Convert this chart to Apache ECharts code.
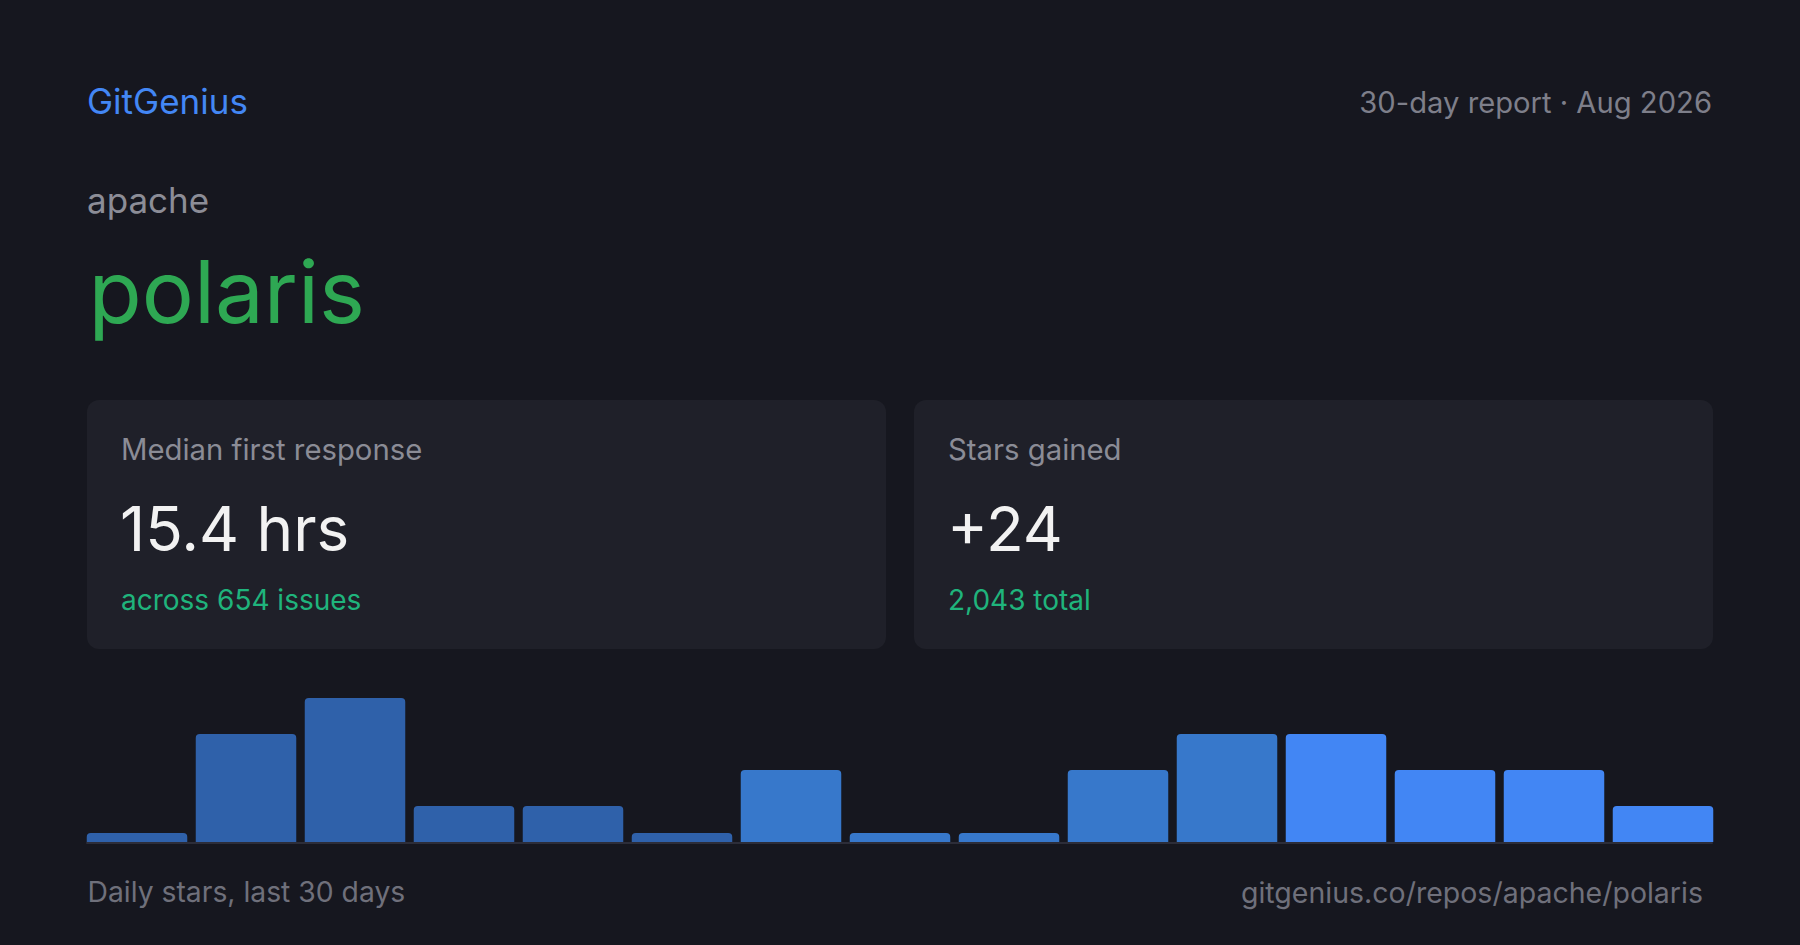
<!DOCTYPE html>
<html>
<head>
<meta charset="utf-8">
<script src="https://cdn.jsdelivr.net/npm/echarts@6/dist/echarts.min.js"></script>
<style>
  html, body { margin: 0; padding: 0; background: #16171f; }
  #chart { width: 1800px; height: 945px; }
</style>
</head>
<body>
<div id="chart"></div>
<script>
// ---- data ----
const brand = 'GitGenius';
const reportLabel = '30-day report · Aug 2026';
const owner = 'apache';
const repo = 'polaris';
const cardLabels = ['Median first response', 'Stars gained'];
const cardValues = ['15.4 hrs', '+24'];
const cardNotes = ['across 654 issues', '2,043 total'];
const footerLeft = 'Daily stars, last 30 days';
const footerRight = 'gitgenius.co/repos/apache/polaris';
const periods = ['1','2','3','4','5','6','7','8','9','10','11','12','13','14','15'];
const dailyStars = [0, 3, 4, 1, 1, 0, 2, 0, 0, 2, 3, 3, 2, 2, 1];

// ---- chart ----
const FONT = 'Inter, "Noto Sans", sans-serif';
const chart = echarts.init(document.getElementById('chart'), null, { renderer: 'svg' });

function barColor(i) {
  if (i < 6) return '#2f61aa';
  if (i < 11) return '#3778cb';
  return '#4286f4';
}

// place text by its baseline
function text(x, baseline, str, size, color, align) {
  return {
    type: 'text', x: x, y: baseline - 0.86 * size, silent: true,
    style: { text: str, font: size + 'px ' + FONT, fill: color,
             textAlign: align || 'left', verticalAlign: 'top' }
  };
}

const cardX = [87, 914];
const graphics = [
  text(87, 114, brand, 35, '#4387f5'),
  text(1712, 113, reportLabel, 29.2, '#7e7f8a', 'right'),
  text(87, 213, owner, 35, '#8c8d97'),
  text(88.5, 322.5, repo, 87, '#2ea853'),
  text(87.5, 902.5, footerLeft, 28.3, '#6f707b'),
  text(1703, 902.5, footerRight, 28.5, '#6f707b', 'right')
];
cardX.forEach(function (cx, k) {
  graphics.push({
    type: 'rect', silent: true, z: -1,
    shape: { x: cx, y: 400, width: 799, height: 249, r: 12 },
    style: { fill: '#1f2029' }
  });
  graphics.push(text(cx + 34, 460, cardLabels[k], 29.3, '#8b8c96'));
  graphics.push(text(cx + 33, 550.5, cardValues[k], 62, '#f2f2f2'));
  graphics.push(text(cx + 34, 610.5, cardNotes[k], 28, '#1fb47c'));
});

chart.setOption({
  backgroundColor: '#16171f',
  animation: false,
  graphic: graphics,
  grid: [
    { left: 82.5, width: 1635, top: 698, bottom: 103 },
    { left: 87, width: 1625, top: 698, bottom: 102 }
  ],
  xAxis: [
    { type: 'category', gridIndex: 0, data: periods,
      axisLine: { show: false }, axisTick: { show: false }, axisLabel: { show: false } },
    { type: 'category', gridIndex: 1, data: periods,
      axisLine: { show: true, lineStyle: { color: '#2c2d39', width: 2 } },
      axisTick: { show: false }, axisLabel: { show: false } }
  ],
  yAxis: [
    { type: 'value', gridIndex: 0, min: 0, max: 4, show: false, splitLine: { show: false } },
    { type: 'value', gridIndex: 1, min: 0, max: 4, show: false, splitLine: { show: false } }
  ],
  series: [{
    type: 'bar', xAxisIndex: 0, yAxisIndex: 0,
    data: dailyStars,
    barWidth: 100.5,
    barMinHeight: 9,
    itemStyle: {
      borderRadius: [4, 4, 0, 0],
      color: function (p) { return barColor(p.dataIndex); }
    }
  }]
});
</script>
</body>
</html>
